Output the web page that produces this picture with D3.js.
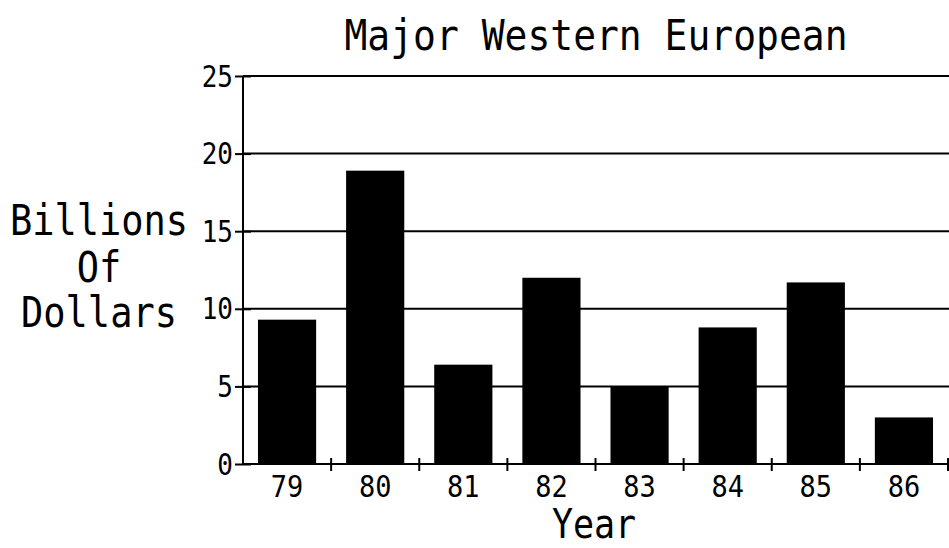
<!DOCTYPE html>
<html>
<head>
<meta charset="utf-8">
<script src="https://cdn.jsdelivr.net/npm/d3@7"></script>
<style>
  html, body { margin: 0; padding: 0; background: #fff; }
  svg text { font-family: "DejaVu Sans Mono", "Liberation Mono", monospace; fill: #000; }
</style>
</head>
<body>
<svg id="chart" width="949" height="548"></svg>
<script>
const categories = ["79", "80", "81", "82", "83", "84", "85", "86"];
const values = [9.3, 18.9, 6.4, 12.0, 5.0, 8.8, 11.7, 3.0];
const yTicks = [0, 5, 10, 15, 20, 25];
const titleText = "Major Western European";
const yLabelLines = ["Billions", "Of", "Dollars"];
const xLabelText = "Year";

(function () {
const svg = d3.select("#chart");
const pLeft = 243, pRight = 948, pTop = 76, pBottom = 464;
const stretch = 1.13;

const y = d3.scaleLinear().domain([0, 25]).range([pBottom, pTop]);
const x = d3.scaleBand().domain(categories).range([pLeft, pRight])
  .paddingInner(0.34).paddingOuter(0.17);
const xb = d3.scaleBand().domain(categories).range([pLeft, pRight]).padding(0);

function label(g, tx, ty, size, txt, anchor, st) {
  return g.append("text")
    .attr("transform", `translate(${tx},${ty}) scale(1,${st || stretch})`)
    .attr("text-anchor", anchor || "middle")
    .attr("font-size", size)
    .text(txt);
}

// gridlines
svg.append("g").selectAll("line").data(yTicks.filter(d => d > 0)).join("line")
  .attr("x1", pLeft).attr("x2", 949)
  .attr("y1", d => y(d)).attr("y2", d => y(d))
  .attr("stroke", "#000").attr("stroke-width", 2);

// bars
svg.append("g").selectAll("rect").data(values).join("rect")
  .attr("x", (d, i) => x(categories[i]))
  .attr("width", x.bandwidth())
  .attr("y", d => y(d))
  .attr("height", d => y(0) - y(d))
  .attr("fill", "#000");

// y axis
const yAxis = d3.axisLeft(y).tickValues(yTicks).tickSize(8).tickFormat(d3.format("d"));
const gy = svg.append("g").attr("transform", `translate(${pLeft},0)`).call(yAxis);
gy.select(".domain").remove();
gy.append("line").attr("x1", 0).attr("x2", 0).attr("y1", pTop).attr("y2", pBottom)
  .attr("stroke", "#000").attr("stroke-width", 2);
gy.selectAll(".tick line").attr("x1", -8).attr("x2", 8).attr("stroke", "#000").attr("stroke-width", 2);
gy.selectAll(".tick text").remove();
gy.selectAll(".tick").each(function (d) {
  label(d3.select(this), -10, 10, 26, String(d), "end");
});

// x axis
svg.append("line").attr("x1", pLeft).attr("x2", 949).attr("y1", pBottom).attr("y2", pBottom)
  .attr("stroke", "#000").attr("stroke-width", 2);
const bounds = categories.map(c => xb(c) + xb.bandwidth()).filter(v => v < 949);
svg.append("g").selectAll("line").data(bounds).join("line")
  .attr("x1", d => d).attr("x2", d => d)
  .attr("y1", pBottom - 6).attr("y2", pBottom + 7)
  .attr("stroke", "#000").attr("stroke-width", 2);
const gx = svg.append("g");
categories.forEach(c => label(gx, x(c) + x.bandwidth() / 2, 497, 27, c));

// title
label(svg, 596, 50, 38, titleText);

// y label
const yl = [235, 282, 327];
yLabelLines.forEach((t, i) => label(svg, 99, yl[i], 37, t));

// x label
label(svg, 594, 538, 35, xLabelText, "middle", 1.15);
})();
</script>
</body>
</html>
